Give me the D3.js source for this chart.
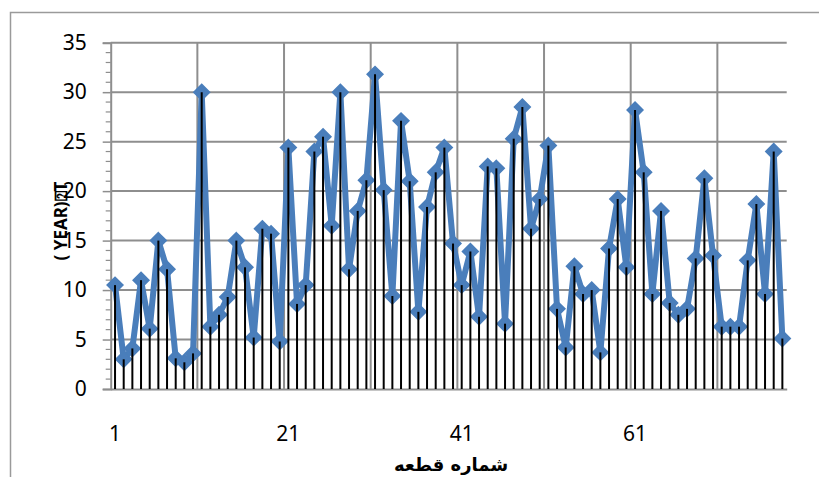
<!DOCTYPE html>
<html>
<head>
<meta charset="utf-8">
<script src="https://cdn.jsdelivr.net/npm/d3@7"></script>
<style>
  html, body { margin: 0; padding: 0; background: #fff; }
  svg { display: block; }
</style>
</head>
<body>
<svg id="chart" width="819" height="477"></svg>
<script>
// ---- data ----
const categories = d3.range(1, 79);
const values = [
  10.5, 3.0, 4.1, 11.0, 6.1, 15.0, 12.1, 3.1, 2.7, 3.6,
  30.0, 6.3, 7.5, 9.3, 15.0, 12.3, 5.2, 16.2, 15.7, 4.8,
  24.4, 8.6, 10.5, 24.0, 25.5, 16.5, 30.0, 12.1, 18.0, 21.1,
  31.8, 20.1, 9.4, 27.1, 21.0, 7.8, 18.4, 21.9, 24.4, 14.7,
  10.5, 13.9, 7.3, 22.5, 22.3, 6.6, 25.3, 28.5, 16.2, 19.2,
  24.6, 8.1, 4.2, 12.4, 9.6, 10.0, 3.7, 14.2, 19.2, 12.3,
  28.2, 21.9, 9.6, 18.0, 8.7, 7.5, 8.1, 13.2, 21.3, 13.5,
  6.3, 6.3, 6.3, 13.0, 18.7, 9.6, 24.0, 5.1
];
const yTicks = [0, 5, 10, 15, 20, 25, 30, 35];
const xTickLabels = [1, 21, 41, 61];
const yTitle = "( YEAR)\u2370T";
const xTitle = "شماره قطعه";

// ---- layout ----
const svg = d3.select("#chart");
const X0 = 110.7, X1 = 786.7, Y0 = 389, Y1 = 42.7;
const gridColor = "#8e8e8e";
const blue = "#4a7ebb";

const x = d3.scaleBand().domain(categories).range([X0, X1]).paddingInner(0).paddingOuter(0);
const bw = x.bandwidth();
const cx = d => x(d) + bw / 2;
const y = d3.scaleLinear().domain([0, 35]).range([Y0, Y1]);

// chart frame (left & top edges visible)
svg.append("path")
  .attr("d", `M10.5,477 L10.5,12.5 L819,12.5`)
  .attr("fill", "none").attr("stroke", "#9a9a9a").attr("stroke-width", 1.5);

// horizontal gridlines
svg.append("g").selectAll("line")
  .data(yTicks.filter(t => t > 0))
  .join("line")
  .attr("x1", X0).attr("x2", X1)
  .attr("y1", d => y(d)).attr("y2", d => y(d))
  .attr("stroke", gridColor).attr("stroke-width", 2);

// vertical gridlines every 10 categories (at category boundaries)
const vGrid = categories.filter(c => c % 10 === 0 && c < categories.length);
svg.append("g").selectAll("line")
  .data(vGrid)
  .join("line")
  .attr("x1", d => x(d) + bw).attr("x2", d => x(d) + bw)
  .attr("y1", y(0)).attr("y2", y(35))
  .attr("stroke", gridColor).attr("stroke-width", 2);

// y axis
const yAxis = d3.axisLeft(y).tickValues(yTicks).tickSize(8).tickPadding(16);
const gy = svg.append("g").attr("transform", `translate(${X0},0)`).call(yAxis);
gy.select(".domain").attr("stroke", gridColor).attr("stroke-width", 2);
gy.selectAll(".tick line").attr("stroke", gridColor).attr("stroke-width", 1.5);
gy.selectAll("text").attr("font-family", "'Noto Sans', sans-serif").attr("font-size", 21).attr("fill", "#000");
// minor ticks
svg.append("g").selectAll("line")
  .data(d3.range(0, 36).filter(v => v % 5 !== 0))
  .join("line")
  .attr("x1", X0 - 5).attr("x2", X0)
  .attr("y1", d => y(d)).attr("y2", d => y(d))
  .attr("stroke", gridColor).attr("stroke-width", 1.2);

// x axis
const xAxis = d3.axisBottom(x).tickValues(xTickLabels).tickSize(0).tickPadding(37);
const gx = svg.append("g").attr("transform", `translate(0,${Y0})`).call(xAxis);
gx.select(".domain").attr("stroke", gridColor).attr("stroke-width", 2);
gx.selectAll("text").attr("font-family", "'Noto Sans', sans-serif").attr("font-size", 21).attr("fill", "#000");

// series line
const line = d3.line().x((d, i) => cx(categories[i])).y(d => y(d));
svg.append("path")
  .datum(values)
  .attr("d", line)
  .attr("fill", "none")
  .attr("stroke", blue)
  .attr("stroke-width", 6)
  .attr("stroke-linejoin", "round");

// diamond markers
const sym = d3.symbol().type(d3.symbolDiamond2).size(160);
svg.append("g").selectAll("path")
  .data(values)
  .join("path")
  .attr("transform", (d, i) => `translate(${cx(categories[i])},${y(d)})`)
  .attr("d", sym)
  .attr("fill", blue)
  .attr("stroke", blue)
  .attr("stroke-width", 1.5);

// drop lines
svg.append("g").selectAll("line")
  .data(values)
  .join("line")
  .attr("x1", (d, i) => cx(categories[i])).attr("x2", (d, i) => cx(categories[i]))
  .attr("y1", d => y(d)).attr("y2", y(0))
  .attr("stroke", "#000").attr("stroke-width", 2);

// axis titles
svg.append("text")
  .attr("transform", `translate(67,221) rotate(-90)`)
  .attr("text-anchor", "middle")
  .attr("font-family", "'Noto Sans', 'DejaVu Sans', sans-serif")
  .attr("font-weight", "bold")
  .attr("font-size", 17)
  .attr("fill", "#000")
  .text(yTitle);

svg.append("text")
  .attr("x", 451).attr("y", 471)
  .attr("text-anchor", "middle")
  .attr("font-family", "'DejaVu Sans', 'Noto Sans', sans-serif")
  .attr("font-weight", "bold")
  .attr("font-size", 18)
  .attr("fill", "#000")
  .text(xTitle);
</script>
</body>
</html>
